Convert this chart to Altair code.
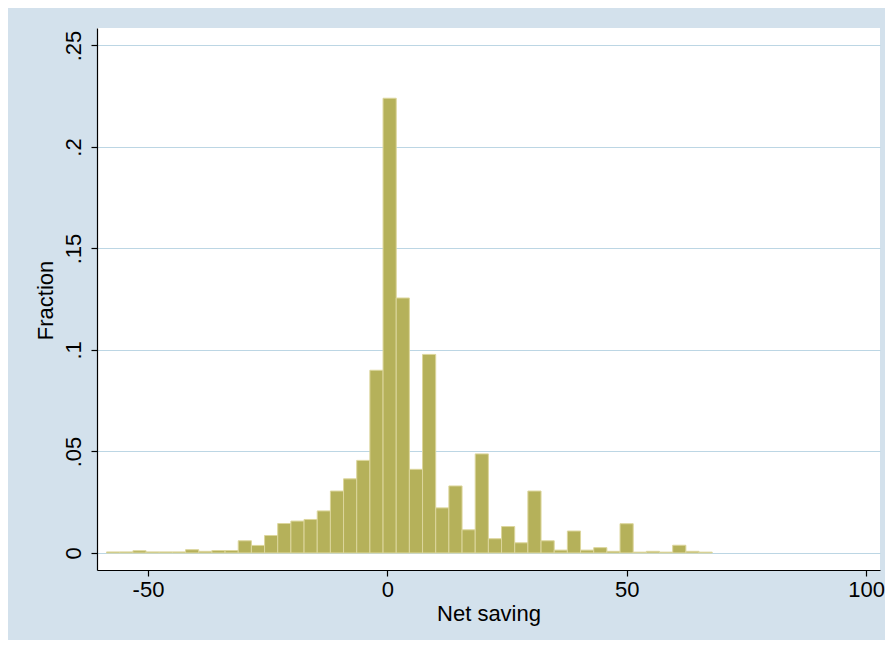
import altair as alt
import pandas as pd

# Histogram bin lower/upper edges (Net saving) and bar heights (Fraction)
bin_lo = [-58.65, -55.90, -53.15, -50.40, -47.65, -44.90, -42.15, -39.40, -36.65, -33.90,
          -31.15, -28.40, -25.65, -22.90, -20.15, -17.40, -14.65, -11.90, -9.15, -6.40,
          -3.65, -0.90, 1.85, 4.60, 7.35, 10.10, 12.85, 15.60, 18.35, 21.10,
          23.85, 26.60, 29.35, 32.10, 34.85, 37.60, 40.35, 43.10, 45.85, 48.60,
          51.35, 54.10, 56.85, 59.60, 62.35, 65.10]
bin_hi = [-55.90, -53.15, -50.40, -47.65, -44.90, -42.15, -39.40, -36.65, -33.90, -31.15,
          -28.40, -25.65, -22.90, -20.15, -17.40, -14.65, -11.90, -9.15, -6.40, -3.65,
          -0.90, 1.85, 4.60, 7.35, 10.10, 12.85, 15.60, 18.35, 21.10, 23.85,
          26.60, 29.35, 32.10, 34.85, 37.60, 40.35, 43.10, 45.85, 48.60, 51.35,
          54.10, 56.85, 59.60, 62.35, 65.10, 67.85]
fraction = [0.0005, 0.0005, 0.0011, 0.0005, 0.0005, 0.0005, 0.0016, 0.0008, 0.0012, 0.0012,
            0.0060, 0.0037, 0.0086, 0.0145, 0.0157, 0.0165, 0.0207, 0.0305, 0.0365, 0.0456,
            0.0900, 0.2240, 0.1256, 0.0412, 0.0978, 0.0222, 0.0330, 0.0114, 0.0488, 0.0070,
            0.0130, 0.0050, 0.0305, 0.0060, 0.0014, 0.0108, 0.0014, 0.0026, 0.0008, 0.0144,
            0.0004, 0.0008, 0.0004, 0.0038, 0.0008, 0.0004]

x_ticks = [-50, 0, 50, 100]
y_ticks = [0, 0.05, 0.1, 0.15, 0.2, 0.25]

df = pd.DataFrame({"lo": bin_lo, "hi": bin_hi, "frac": fraction})

FONT = "Liberation Sans, Arial, sans-serif"
W, H = 783, 542

bars = alt.Chart(df).mark_rect(
    fill="#b5b15a", stroke="#dcd69c", strokeWidth=1
).encode(
    x=alt.X("lo:Q",
            scale=alt.Scale(domain=[-60.65, 102.9], nice=False, zero=False),
            axis=alt.Axis(values=x_ticks, grid=False,
                          labelExpr="toString(datum.value)",
                          domainColor="black", domainWidth=1.2,
                          tickColor="black", tickSize=6, tickWidth=1.2,
                          labelFont=FONT, labelFontSize=22, labelColor="black",
                          labelPadding=3, labelFlush=False,
                          title="Net saving", titleFont=FONT, titleFontSize=22,
                          titleFontWeight="normal", titleColor="black",
                          titleX=W / 2, titleY=43, titleAlign="center",
                          titleBaseline="middle")),
    x2="hi:Q",
    y=alt.Y("frac:Q",
            scale=alt.Scale(domain=[-0.0084, 0.2586], nice=False, zero=False),
            axis=alt.Axis(values=y_ticks, grid=True, gridColor="#bcd6e4", gridWidth=1,
                          domainColor="black", domainWidth=1.2,
                          tickColor="black", tickSize=6, tickWidth=1.2,
                          labelFont=FONT, labelFontSize=22, labelColor="black",
                          labelAngle=270, labelAlign="center", labelBaseline="bottom",
                          labelPadding=6,
                          labelExpr="datum.value == 0 ? '0' : substring(format(datum.value, '.2~f'), 1)",
                          title="Fraction", titleFont=FONT, titleFontSize=22,
                          titleFontWeight="normal", titleColor="black",
                          titleAngle=270, titleX=-52, titleY=H / 2 + 1,
                          titleAlign="center", titleBaseline="middle")),
    y2=alt.datum(0),
)

chart = bars.properties(
    width=W, height=H,
    background="#d3e1ec",
    padding={"left": 89, "top": 20, "right": 5, "bottom": 70},
    autosize=alt.AutoSizeParams(type="none"),
).configure_view(fill="white", stroke=None)

chart.save("out.html", embed_options={"renderer": "svg", "actions": False})
